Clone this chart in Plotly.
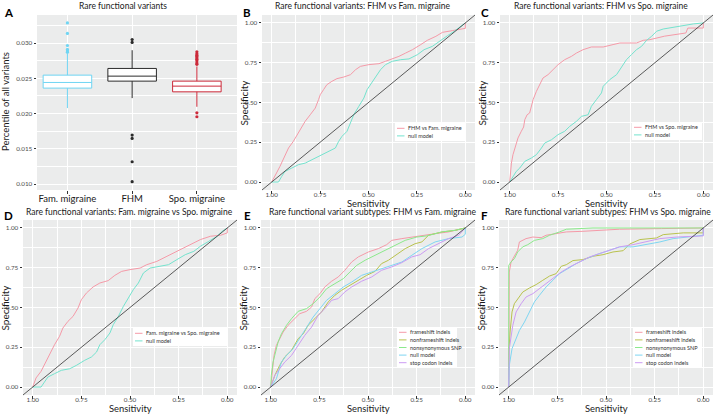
import plotly.graph_objects as go

W, H = 717, 414
FONT = "Lato"

# ---------------- data ----------------
BOX_CATEGORIES = ["Fam. migraine", "FHM", "Spo. migraine"]
BOX_Q1 = [0.02362, 0.02461, 0.02309]
BOX_MEDIAN = [0.02442, 0.02532, 0.02390]
BOX_Q3 = [0.02546, 0.02641, 0.02461]
BOX_LOWER = [0.02078, 0.02220, 0.02097]
BOX_UPPER = [0.02858, 0.02900, 0.02670]
OUT_FAM = [0.03288, 0.03138, 0.02967, 0.02911, 0.02890, 0.02872]
OUT_FHM = [0.03052, 0.03010, 0.01695, 0.01648, 0.01316, 0.01033]
OUT_SPO = [0.02877, 0.02850, 0.02830, 0.02810, 0.02790, 0.02770, 0.02750,
           0.02720, 0.02700, 0.02011, 0.01955]

ROC_TICKS = [1.0, 0.75, 0.5, 0.25, 0.0]
ROC_TICKTEXT = ["1.00", "0.75", "0.50", "0.25", "0.00"]

# Panel B: FHM vs Fam. migraine
B_MAIN_SENS = [1.0, 0.986, 0.975, 0.957, 0.931, 0.913, 0.888, 0.862, 0.844, 0.827, 0.801, 0.775,
               0.758, 0.749, 0.732, 0.715, 0.689, 0.663, 0.628, 0.593, 0.567, 0.542, 0.498, 0.446,
               0.412, 0.377, 0.343, 0.308, 0.273, 0.230, 0.196, 0.152, 0.118, 0.066, 0.031, 0.0, 0.0]
B_MAIN_SPEC = [0.0, 0.036, 0.057, 0.099, 0.161, 0.214, 0.256, 0.308, 0.350, 0.382, 0.423, 0.465,
               0.518, 0.549, 0.581, 0.612, 0.633, 0.650, 0.660, 0.675, 0.706, 0.727, 0.738, 0.744,
               0.759, 0.774, 0.790, 0.811, 0.832, 0.864, 0.891, 0.916, 0.941, 0.952, 0.962, 0.966, 1.0]
B_NULL_SENS = [1.0, 0.965, 0.948, 0.931, 0.896, 0.862, 0.827, 0.792, 0.758, 0.723, 0.689, 0.671,
               0.654, 0.637, 0.611, 0.593, 0.576, 0.550, 0.524, 0.507, 0.490, 0.464, 0.438, 0.412,
               0.377, 0.334, 0.291, 0.247, 0.213, 0.170, 0.135, 0.092, 0.057, 0.022, 0.0]
B_NULL_SPEC = [0.0, 0.0, 0.036, 0.067, 0.088, 0.109, 0.119, 0.140, 0.161, 0.182, 0.203, 0.214,
               0.256, 0.287, 0.319, 0.371, 0.423, 0.476, 0.528, 0.581, 0.612, 0.654, 0.706, 0.738,
               0.759, 0.769, 0.774, 0.801, 0.832, 0.853, 0.885, 0.920, 0.948, 0.983, 1.0]

# Panel C: FHM vs Spo. migraine
C_MAIN_SENS = [1.0, 0.997, 0.991, 0.983, 0.969, 0.957, 0.940, 0.928, 0.922, 0.910, 0.897, 0.888,
               0.879, 0.862, 0.845, 0.828, 0.802, 0.776, 0.750, 0.716, 0.681, 0.655, 0.621, 0.578,
               0.517, 0.466, 0.431, 0.345, 0.310, 0.276, 0.200, 0.090, 0.080, 0.0, 0.0]
C_MAIN_SPEC = [0.0, 0.057, 0.119, 0.172, 0.224, 0.277, 0.319, 0.346, 0.392, 0.423, 0.434, 0.476,
               0.518, 0.570, 0.612, 0.654, 0.675, 0.706, 0.738, 0.769, 0.790, 0.811, 0.832, 0.849,
               0.849, 0.864, 0.874, 0.874, 0.891, 0.895, 0.917, 0.937, 0.968, 0.968, 1.0]
C_NULL_SENS = [1.0, 0.983, 0.966, 0.948, 0.922, 0.888, 0.862, 0.836, 0.819, 0.784, 0.750, 0.716,
               0.690, 0.655, 0.629, 0.595, 0.578, 0.552, 0.526, 0.517, 0.483, 0.448, 0.422, 0.397,
               0.371, 0.345, 0.319, 0.293, 0.267, 0.241, 0.207, 0.155, 0.103, 0.052, 0.0]
C_NULL_SPEC = [0.0, 0.036, 0.067, 0.088, 0.130, 0.151, 0.172, 0.214, 0.245, 0.266, 0.298, 0.319,
               0.350, 0.382, 0.413, 0.423, 0.476, 0.518, 0.560, 0.602, 0.644, 0.675, 0.727, 0.769,
               0.801, 0.832, 0.853, 0.891, 0.916, 0.948, 0.962, 0.973, 0.983, 0.994, 1.0]

# Panel D: Fam. migraine vs Spo. migraine
D_MAIN_SENS = [1.0, 0.983, 0.957, 0.931, 0.914, 0.888, 0.862, 0.845, 0.819, 0.793, 0.767, 0.750,
               0.724, 0.690, 0.655, 0.612, 0.578, 0.543, 0.500, 0.448, 0.414, 0.362, 0.310, 0.259,
               0.207, 0.138, 0.086, 0.034, 0.0, 0.0]
D_MAIN_SPEC = [0.0, 0.057, 0.099, 0.161, 0.210, 0.266, 0.319, 0.371, 0.413, 0.444, 0.497, 0.549,
               0.591, 0.629, 0.654, 0.669, 0.702, 0.727, 0.738, 0.748, 0.769, 0.790, 0.822, 0.853,
               0.885, 0.927, 0.948, 0.954, 0.969, 1.0]
D_NULL_SENS = [1.0, 0.957, 0.940, 0.922, 0.888, 0.853, 0.810, 0.776, 0.733, 0.698, 0.672, 0.655,
               0.629, 0.603, 0.586, 0.560, 0.534, 0.509, 0.483, 0.457, 0.431, 0.397, 0.353, 0.302,
               0.259, 0.216, 0.172, 0.138, 0.095, 0.052, 0.026, 0.0]
D_NULL_SPEC = [0.0, 0.0, 0.031, 0.063, 0.084, 0.105, 0.115, 0.136, 0.168, 0.189, 0.220, 0.266,
               0.298, 0.340, 0.392, 0.444, 0.507, 0.556, 0.612, 0.654, 0.717, 0.748, 0.759, 0.769,
               0.801, 0.832, 0.853, 0.885, 0.916, 0.948, 0.979, 1.0]

# Panel E: subtypes, FHM vs Fam. migraine
E_FRAME_SENS = [1.0, 0.993, 0.983, 0.971, 0.954, 0.936, 0.911, 0.885, 0.851, 0.816, 0.790, 0.773,
                0.747, 0.722, 0.687, 0.653, 0.619, 0.584, 0.550, 0.498, 0.447, 0.404, 0.378, 0.326,
                0.275, 0.223, 0.155, 0.086, 0.0]
E_FRAME_SPEC = [0.0, 0.094, 0.199, 0.262, 0.304, 0.346, 0.388, 0.419, 0.461, 0.476, 0.503, 0.556,
                0.587, 0.629, 0.665, 0.692, 0.734, 0.786, 0.818, 0.849, 0.870, 0.895, 0.922, 0.933,
                0.943, 0.954, 0.964, 0.975, 1.0]
E_NONFRAME_SENS = [1.0, 0.979, 0.954, 0.928, 0.893, 0.859, 0.833, 0.808, 0.773, 0.739, 0.704, 0.670,
                   0.636, 0.593, 0.550, 0.507, 0.464, 0.430, 0.395, 0.361, 0.309, 0.258, 0.223, 0.189,
                   0.120, 0.052, 0.0]
E_NONFRAME_SPEC = [0.0, 0.073, 0.136, 0.189, 0.231, 0.304, 0.335, 0.388, 0.430, 0.472, 0.535, 0.577,
                   0.608, 0.639, 0.671, 0.702, 0.727, 0.776, 0.797, 0.828, 0.870, 0.901, 0.912, 0.954,
                   0.975, 0.985, 1.0]
E_SNP_SENS = [1.0, 0.997, 0.988, 0.976, 0.962, 0.945, 0.919, 0.893, 0.859, 0.816, 0.782, 0.747,
              0.713, 0.670, 0.627, 0.593, 0.558, 0.515, 0.464, 0.412, 0.361, 0.309, 0.249, 0.198,
              0.120, 0.052, 0.0]
E_SNP_SPEC = [0.0, 0.073, 0.157, 0.220, 0.283, 0.335, 0.388, 0.430, 0.476, 0.493, 0.524, 0.566,
              0.618, 0.650, 0.681, 0.723, 0.765, 0.797, 0.828, 0.860, 0.895, 0.922, 0.943, 0.950,
              0.975, 0.985, 1.0]
E_NULL_SENS = [1.0, 0.971, 0.945, 0.919, 0.885, 0.851, 0.816, 0.782, 0.747, 0.713, 0.670, 0.627,
               0.584, 0.533, 0.481, 0.430, 0.378, 0.326, 0.275, 0.223, 0.155, 0.086, 0.017, 0.0, 0.0]
E_NULL_SPEC = [0.0, 0.052, 0.157, 0.199, 0.241, 0.304, 0.377, 0.440, 0.493, 0.545, 0.587, 0.629,
               0.660, 0.702, 0.723, 0.744, 0.765, 0.786, 0.828, 0.870, 0.912, 0.933, 0.943, 0.960, 1.0]
E_STOP_SENS = [1.0, 0.979, 0.954, 0.928, 0.893, 0.859, 0.825, 0.790, 0.756, 0.722, 0.687, 0.653,
               0.619, 0.584, 0.533, 0.481, 0.430, 0.378, 0.326, 0.275, 0.232, 0.189, 0.137, 0.086,
               0.034, 0.0]
E_STOP_SPEC = [0.0, 0.073, 0.115, 0.157, 0.199, 0.262, 0.325, 0.377, 0.451, 0.493, 0.545, 0.556,
               0.598, 0.629, 0.665, 0.692, 0.734, 0.755, 0.782, 0.818, 0.832, 0.870, 0.901, 0.933,
               0.954, 1.0]

# Panel F: subtypes, FHM vs Spo. migraine
F_FRAME_SENS = [1.0, 1.0, 0.997, 0.988, 0.971, 0.954, 0.945, 0.911, 0.876, 0.833, 0.808, 0.756,
                0.704, 0.619, 0.515, 0.430, 0.215, 0.0]
F_FRAME_SPEC = [0.0, 0.514, 0.723, 0.786, 0.828, 0.860, 0.912, 0.933, 0.943, 0.939, 0.954, 0.964,
                0.975, 0.979, 0.985, 0.992, 0.996, 1.0]
F_NONFRAME_SENS = [1.0, 1.0, 0.993, 0.983, 0.971, 0.954, 0.928, 0.893, 0.859, 0.825, 0.790, 0.756,
                   0.730, 0.704, 0.670, 0.619, 0.567, 0.515, 0.464, 0.412, 0.378, 0.326, 0.241, 0.206,
                   0.103, 0.017, 0.0, 0.0]
F_NONFRAME_SPEC = [0.0, 0.199, 0.346, 0.472, 0.524, 0.556, 0.597, 0.623, 0.644, 0.671, 0.698, 0.713,
                   0.759, 0.769, 0.795, 0.801, 0.822, 0.832, 0.849, 0.857, 0.899, 0.927, 0.937, 0.958,
                   0.969, 0.969, 0.969, 1.0]
F_SNP_SENS = [1.0, 1.0, 0.988, 0.971, 0.954, 0.928, 0.902, 0.868, 0.825, 0.790, 0.739, 0.704,
              0.567, 0.0]
F_SNP_SPEC = [0.0, 0.765, 0.786, 0.807, 0.849, 0.881, 0.895, 0.922, 0.933, 0.954, 0.975, 0.992,
              1.0, 1.0]
F_NULL_SENS = [1.0, 0.997, 0.983, 0.962, 0.945, 0.919, 0.893, 0.868, 0.842, 0.808, 0.773, 0.739,
               0.696, 0.653, 0.601, 0.550, 0.481, 0.430, 0.361, 0.292, 0.223, 0.155, 0.086, 0.017,
               0.0, 0.0]
F_NULL_SPEC = [0.0, 0.136, 0.241, 0.304, 0.356, 0.409, 0.472, 0.535, 0.577, 0.629, 0.671, 0.713,
               0.744, 0.776, 0.807, 0.832, 0.860, 0.881, 0.881, 0.895, 0.912, 0.933, 0.943, 0.954,
               0.954, 1.0]
F_STOP_SENS = [1.0, 0.997, 0.979, 0.962, 0.936, 0.911, 0.876, 0.842, 0.808, 0.773, 0.730, 0.687,
               0.636, 0.584, 0.533, 0.481, 0.430, 0.361, 0.292, 0.223, 0.137, 0.052, 0.0, 0.0]
F_STOP_SPEC = [0.0, 0.241, 0.388, 0.472, 0.524, 0.566, 0.587, 0.618, 0.650, 0.686, 0.723, 0.755,
               0.786, 0.818, 0.839, 0.860, 0.881, 0.895, 0.912, 0.933, 0.943, 0.950, 0.950, 1.0]

# ---------------- styles ----------------
PINK = "#F59AA8"
MINT = "#74E3CE"
OLIVE = "#B9C24E"
GREEN = "#8CE98C"
SKY = "#7FD6F2"
LAVENDER = "#CC9CF3"
BOX_COLORS = ["#6FD5F3", "#2B2B2B", "#CC2A3A"]
BG = "#EBECEC"

# panel positions in pixels: (x_left, x_right), (y_top, y_bottom)
PANELS = {
    1: ((37, 237), (15, 190)),
    2: ((262, 475), (15, 190)),
    3: ((500, 713), (15, 190)),
    4: ((23, 237), (220, 395)),
    5: ((261, 475), (220, 395)),
    6: ((499, 713), (220, 395)),
}


def px(x):
    return x / W


def py(y):
    return 1 - y / H


fig = go.Figure()

# ---------------- Panel A: boxplots ----------------
for i, cat in enumerate(BOX_CATEGORIES):
    fig.add_trace(go.Box(
        x=[cat], q1=[BOX_Q1[i]], median=[BOX_MEDIAN[i]], q3=[BOX_Q3[i]],
        lowerfence=[BOX_LOWER[i]], upperfence=[BOX_UPPER[i]],
        boxpoints=False, width=0.75, whiskerwidth=0,
        fillcolor="white", line=dict(color=BOX_COLORS[i], width=1),
        xaxis="x", yaxis="y", showlegend=False, hoverinfo="skip"))

for cat, outs, col in zip(BOX_CATEGORIES, [OUT_FAM, OUT_FHM, OUT_SPO], BOX_COLORS):
    fig.add_trace(go.Scatter(
        x=[cat] * len(outs), y=outs, mode="markers",
        marker=dict(color=col, size=3.2), xaxis="x", yaxis="y",
        showlegend=False, hoverinfo="skip"))

# ---------------- ROC panels ----------------
ROC_PANELS = {
    2: [("FHM vs Fam. migraine", B_MAIN_SENS, B_MAIN_SPEC, PINK),
        ("null model", B_NULL_SENS, B_NULL_SPEC, MINT)],
    3: [("FHM vs Spo. migraine", C_MAIN_SENS, C_MAIN_SPEC, PINK),
        ("null model", C_NULL_SENS, C_NULL_SPEC, MINT)],
    4: [("Fam. migraine vs Spo. migraine", D_MAIN_SENS, D_MAIN_SPEC, PINK),
        ("null model", D_NULL_SENS, D_NULL_SPEC, MINT)],
    5: [("frameshift indels", E_FRAME_SENS, E_FRAME_SPEC, PINK),
        ("nonframeshift indels", E_NONFRAME_SENS, E_NONFRAME_SPEC, OLIVE),
        ("nonsynonymous SNP", E_SNP_SENS, E_SNP_SPEC, GREEN),
        ("null model", E_NULL_SENS, E_NULL_SPEC, SKY),
        ("stop codon indels", E_STOP_SENS, E_STOP_SPEC, LAVENDER)],
    6: [("frameshift indels", F_FRAME_SENS, F_FRAME_SPEC, PINK),
        ("nonframeshift indels", F_NONFRAME_SENS, F_NONFRAME_SPEC, OLIVE),
        ("nonsynonymous SNP", F_SNP_SENS, F_SNP_SPEC, GREEN),
        ("null model", F_NULL_SENS, F_NULL_SPEC, SKY),
        ("stop codon indels", F_STOP_SENS, F_STOP_SPEC, LAVENDER)],
}

# legend boxes: (x_left, x_right, y_top)
LEGEND_BOXES = {
    2: (395, 465, 123),
    3: (632, 702, 122),
    4: (133, 227, 328),
    5: (397, 457, 327),
    6: (633, 702, 327),
}

shapes = []
annotations = []

for n, series in ROC_PANELS.items():
    xa = "x%d" % n
    ya = "y%d" % n
    for name, sens, spec, col in series:
        fig.add_trace(go.Scatter(
            x=sens, y=spec, mode="lines", name=name,
            line=dict(color=col, width=1), xaxis=xa, yaxis=ya,
            showlegend=False, hoverinfo="skip"))
    # diagonal reference
    shapes.append(dict(type="line", xref=xa + " domain", yref=ya + " domain",
                       x0=0, y0=0, x1=1, y1=1,
                       line=dict(color="#333333", width=0.8), layer="above"))
    # manual compact legend
    lx0, lx1, ly0 = LEGEND_BOXES[n]
    step = 7.6
    ly1 = ly0 + 5 + step * (len(series) - 1) + 5.5
    shapes.append(dict(type="rect", xref="paper", yref="paper",
                       x0=px(lx0), x1=px(lx1), y0=py(ly1), y1=py(ly0),
                       fillcolor="white", line=dict(width=0), layer="above"))
    for k, (name, sens, spec, col) in enumerate(series):
        yy = ly0 + 5.3 + step * k
        shapes.append(dict(type="line", xref="paper", yref="paper",
                           x0=px(lx0 + 2), x1=px(lx0 + 9.5), y0=py(yy), y1=py(yy),
                           line=dict(color=col, width=1), layer="above"))
        annotations.append(dict(text=name, xref="paper", yref="paper",
                                x=px(lx0 + 11), y=py(yy), xanchor="left", yanchor="middle",
                                showarrow=False,
                                font=dict(family=FONT, size=5.5, color="#333333")))

# ---------------- axes ----------------
tickfont = dict(family=FONT, size=6.3, color="#4D4D4D")
common = dict(showline=False, zeroline=False, gridcolor="white", gridwidth=1,
              ticks="outside", ticklen=2.5, tickwidth=0.6, tickcolor="#333333",
              tickfont=tickfont, fixedrange=True)

layout_axes = {}
for n, ((x0, x1), (y0, y1)) in PANELS.items():
    sx = "" if n == 1 else str(n)
    xdom = [px(x0), px(x1)]
    ydom = [py(y1), py(y0)]
    if n == 1:
        layout_axes["xaxis"] = dict(domain=xdom, anchor="y", range=[-0.47, 2.62],
                                    type="category", categoryorder="array",
                                    categoryarray=BOX_CATEGORIES, showgrid=True,
                                    ticklabelstandoff=-3,
                                    **{**common, "tickfont": dict(family=FONT, size=9.5, color="#1A1A1A")})
        layout_axes["yaxis"] = dict(domain=ydom, anchor="x", range=[0.00915, 0.0340],
                                    tickvals=[0.010, 0.015, 0.020, 0.025, 0.030],
                                    ticktext=["0.010", "0.015", "0.020", "0.025", "0.030"],
                                    minor=dict(showgrid=True, gridcolor="white", gridwidth=0.5,
                                               tickvals=[0.0125, 0.0175, 0.0225, 0.0275, 0.0325],
                                               ticks=""),
                                    **common)
    else:
        layout_axes["xaxis" + sx] = dict(domain=xdom, anchor="y" + sx, range=[1.05, -0.05],
                                         tickvals=ROC_TICKS, ticktext=ROC_TICKTEXT,
                                         ticklabelstandoff=-4, ticklabeloverflow="allow",
                                         minor=dict(showgrid=True, gridcolor="white", gridwidth=0.5,
                                                    tickvals=[0.875, 0.625, 0.375, 0.125], ticks=""),
                                         **common)
        layout_axes["yaxis" + sx] = dict(domain=ydom, anchor="x" + sx, range=[-0.05, 1.05],
                                         tickvals=ROC_TICKS, ticktext=ROC_TICKTEXT,
                                         minor=dict(showgrid=True, gridcolor="white", gridwidth=0.5,
                                                    tickvals=[0.875, 0.625, 0.375, 0.125], ticks=""),
                                         **common)

# ---------------- texts ----------------
TITLES = [
    ("Rare functional variants", 123, 6),
    ("Rare functional variants: FHM vs Fam. migraine", 363, 6),
    ("Rare functional variants: FHM vs Spo. migraine", 601, 6),
    ("Rare functional variants: Fam. migraine vs Spo. migraine", 129, 212.5),
    ("Rare functional variant subtypes: FHM vs Fam. migraine", 373, 212.5),
    ("Rare functional variant subtypes: FHM vs Spo. migraine", 608, 212.5),
]
for t, x, y in TITLES:
    annotations.append(dict(text=t, xref="paper", yref="paper", x=px(x), y=py(y),
                            xanchor="center", yanchor="middle", showarrow=False,
                            font=dict(family=FONT, size=8.5, color="#1A1A1A")))

LETTERS = [("A", 9, 12), ("B", 247, 12), ("C", 485, 12),
           ("D", 8, 215), ("E", 247, 215), ("F", 484, 215)]
for t, x, y in LETTERS:
    annotations.append(dict(text="<b>%s</b>" % t, xref="paper", yref="paper", x=px(x), y=py(y),
                            xanchor="center", yanchor="middle", showarrow=False,
                            font=dict(family=FONT, size=11.5, color="black")))

# axis titles
annotations.append(dict(text="Percentile of all variants", xref="paper", yref="paper",
                        x=px(5), y=py(102), textangle=-90, xanchor="center", yanchor="middle",
                        showarrow=False, font=dict(family=FONT, size=9.5, color="#1A1A1A")))
for n, ((x0, x1), (y0, y1)) in PANELS.items():
    if n == 1:
        continue
    sens_y = 203.2 if n <= 3 else 408.5
    annotations.append(dict(text="Sensitivity", xref="paper", yref="paper",
                            x=px((x0 + x1) / 2), y=py(sens_y), xanchor="center", yanchor="middle",
                            showarrow=False, font=dict(family=FONT, size=9.4, color="#1A1A1A")))
    annotations.append(dict(text="Specificity", xref="paper", yref="paper",
                            x=px(x0 - 19), y=py((y0 + y1) / 2), textangle=-90,
                            xanchor="center", yanchor="middle",
                            showarrow=False, font=dict(family=FONT, size=10, color="#1A1A1A")))

fig.update_layout(
    width=W, height=H, margin=dict(l=0, r=0, t=0, b=0),
    paper_bgcolor="white", plot_bgcolor=BG,
    font=dict(family=FONT), showlegend=False,
    shapes=shapes, annotations=annotations,
    **layout_axes)

fig.write_html("out.html", config={"displayModeBar": False},
               post_script="document.body.style.margin='0';document.body.style.padding='0';")
